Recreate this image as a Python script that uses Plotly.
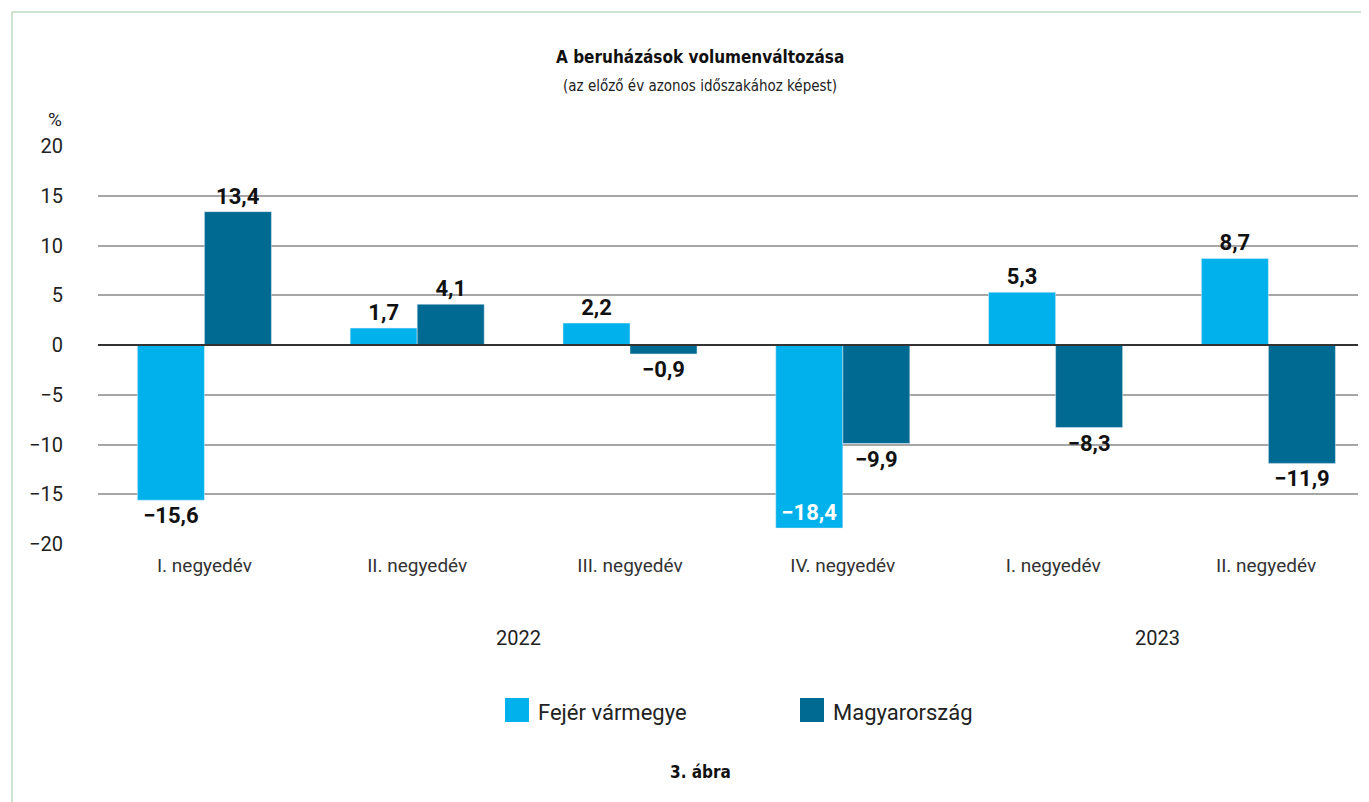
import plotly.graph_objects as go

categories = ["I. negyedév", "II. negyedév", "III. negyedév", "IV. negyedév", "I. negyedév ", "II. negyedév "]
years = ["2022", "2023"]
year_centers = [1.5, 4.5]
fejer = [-15.6, 1.7, 2.2, -18.4, 5.3, 8.7]
magyar = [13.4, 4.1, -0.9, -9.9, -8.3, -11.9]
series_names = ["Fejér vármegye", "Magyarország"]
y_ticks = [20, 15, 10, 5, 0, -5, -10, -15, -20]

C1 = "#00B1EB"
C2 = "#006A93"
OFF = 8  # page body margin
W, H = 1369 - OFF, 802 - OFF
L, R, T, B = 98, 1358, 146, 544  # page pixel positions of plot area


def fmt(v):
    return f"{v:.1f}".replace(".", ",").replace("-", "\u2212")


def xp(px):
    return (px - L) / (R - L)


def yp(py):
    return (B - py) / (B - T)


LABEL_FONT = "Roboto"
TICK_FONT = "Roboto"
TITLE_FONT = "Liberation Sans Narrow, DejaVu Sans Condensed, Roboto"

fig = go.Figure()
f_pos = ["inside" if v < -17 else "outside" for v in fejer]
fig.add_trace(go.Bar(
    x=categories, y=fejer, name=series_names[0], marker_color=C1,
    text=[fmt(v) for v in fejer], textposition=f_pos,
    insidetextanchor="end",
    insidetextfont=dict(family=LABEL_FONT, size=22, color="white", weight="bold"),
    outsidetextfont=dict(family=LABEL_FONT, size=22, color="#111", weight="bold"),
    cliponaxis=False, showlegend=False,
))
fig.add_trace(go.Bar(
    x=categories, y=magyar, name=series_names[1], marker_color=C2,
    text=[fmt(v) for v in magyar], textposition="outside",
    outsidetextfont=dict(family=LABEL_FONT, size=22, color="#111", weight="bold"),
    cliponaxis=False, showlegend=False,
))


def ann(text, x, y, size, family, color="#222", xanchor="center", xref="paper"):
    return dict(text=text, x=x, y=y, xref=xref, yref="paper", showarrow=False,
                xanchor=xanchor, yanchor="middle",
                font=dict(family=family, size=size, color=color))


annotations = [
    ann("<b>A beruházások volumenváltozása</b>", xp(700), yp(57), 17, TITLE_FONT, "#111"),
    ann("(az előző év azonos időszakához képest)", xp(700), yp(86), 15, TITLE_FONT, "#222"),
    ann("%", xp(55), yp(119), 19, TICK_FONT),
    ann("<b>3. ábra</b>", xp(700), yp(772), 17, TITLE_FONT, "#111"),
]
for yr, xc in zip(years, year_centers):
    a = ann(yr, xc, yp(638), 20, TICK_FONT, xref="x")
    a["xshift"] = -5
    annotations.append(a)

shapes = [
    dict(type="rect", xref="paper", yref="paper", x0=xp(12), x1=xp(1400), y0=yp(830), y1=yp(12),
         line=dict(color="#9DC89D", width=1), fillcolor="rgba(0,0,0,0)", layer="below"),
    dict(type="line", xref="paper", yref="y", x0=0, x1=1, y0=0, y1=0, line=dict(color="#333", width=2)),
]
legend_items = [(series_names[0], C1, 505), (series_names[1], C2, 800)]
for name, col, x0 in legend_items:
    shapes.append(dict(type="rect", xref="paper", yref="paper", x0=xp(x0), x1=xp(x0 + 24),
                       y0=yp(722), y1=yp(698), fillcolor=col, line=dict(width=0)))
    annotations.append(ann(name, xp(x0 + 31), yp(712), 22, TICK_FONT, xanchor="left"))

fig.update_layout(
    width=W, height=H,
    margin=dict(l=L - OFF, r=W - (R - OFF), t=T - OFF, b=H - (B - OFF)),
    paper_bgcolor="white", plot_bgcolor="white",
    barmode="group", bargap=0.37, bargroupgap=0,
    annotations=annotations, shapes=shapes,
    xaxis=dict(range=[-0.5, -0.5 + (R - L) / 212.8], showgrid=False, showline=False, ticks="",
               ticklabelstandoff=8,
               tickfont=dict(family=TICK_FONT, size=19, color="#333")),
    yaxis=dict(range=[-20, 20], tickvals=y_ticks, ticktext=[fmt(v).replace(",0", "") for v in y_ticks],
               showgrid=True, gridcolor="#A6A6A6", gridwidth=1.5, zeroline=False,
               ticks="outside", ticklen=30, tickcolor="rgba(0,0,0,0)",
               tickfont=dict(family=TICK_FONT, size=20, color="#222")),
)

fig.write_html("out.html")
